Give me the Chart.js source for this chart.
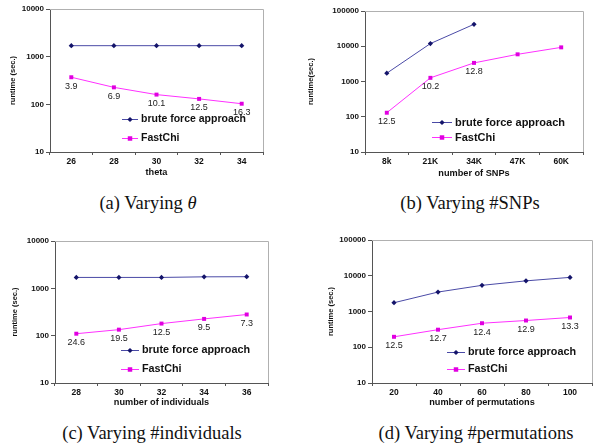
<!DOCTYPE html>
<html>
<head>
<meta charset="utf-8">
<script src="https://cdn.jsdelivr.net/npm/chart.js@4.4.0/dist/chart.umd.min.js"></script>
<style>
  html, body { margin:0; padding:0; background:#fff; }
  #wrap { position:relative; width:600px; height:448px; overflow:hidden; }
  canvas { position:absolute; }
  .cap { position:absolute; font-family:"Liberation Serif", serif; font-size:18.5px; color:#111; white-space:nowrap; transform:translate(-50%,-50%); }
</style>
</head>
<body>
<div id="wrap">
  <canvas id="ca" width="300" height="190" style="left:0;top:0"></canvas>
  <canvas id="cb" width="300" height="190" style="left:300px;top:0"></canvas>
  <canvas id="cc" width="300" height="190" style="left:0;top:224px"></canvas>
  <canvas id="cd" width="300" height="190" style="left:300px;top:224px"></canvas>
  <div class="cap" style="left:148px;top:203px">(a) Varying <i>θ</i></div>
  <div class="cap" style="left:470px;top:203px">(b) Varying #SNPs</div>
  <div class="cap" style="left:152px;top:433px">(c) Varying #individuals</div>
  <div class="cap" style="left:476px;top:433px">(d) Varying #permutations</div>
</div>
<script>
// ---- data ----
const thetaCats = ['26','28','30','32','34'];
const thetaBrute = [1700, 1700, 1700, 1700, 1700];
const thetaFast = [370, 227, 160, 130, 103];
const thetaSpeedup = ['3.9','6.9','10.1','12.5','16.3'];

const snpCats = ['8k','21K','34K','47K','60K'];
const snpBrute = [1720, 11900, 42000, null, null];
const snpFast = [130, 1270, 3370, 5900, 9300];
const snpSpeedup = ['12.5','10.2','12.8', null, null];

const indCats = ['28','30','32','34','36'];
const indBrute = [1700, 1700, 1700, 1750, 1760];
const indFast = [110, 134, 180, 226, 280];
const indSpeedup = ['24.6','19.5','12.5','9.5','7.3'];

const permCats = ['20','40','60','80','100'];
const permBrute = [1760, 3500, 5400, 7200, 9000];
const permFast = [196, 310, 470, 560, 680];
const permSpeedup = ['12.5','12.7','12.4','12.9','13.3'];

const yTicks4 = [10, 100, 1000, 10000];
const yTicks5 = [10, 100, 1000, 10000, 100000];
const seriesNames = ['brute force approach', 'FastChi'];

// ---- styling ----
const FONT = '"Liberation Sans", Arial, sans-serif';
const BRUTE_LINE = '#4a4aa6', BRUTE_PT = '#14146a';
const FAST_LINE = '#ff30ff', FAST_PT = '#e000e0';

const framePlugin = {
  id: 'frame',
  beforeDatasetsDraw(chart) {
    const a = chart.chartArea, ctx = chart.ctx;
    ctx.save();
    ctx.strokeStyle = '#b0b0b0';
    ctx.lineWidth = 1;
    ctx.beginPath();
    ctx.moveTo(a.left, a.top + 0.5);
    ctx.lineTo(a.right + 0.5, a.top + 0.5);
    ctx.lineTo(a.right + 0.5, a.bottom);
    ctx.stroke();
    ctx.restore();
  }
};

const labelPlugin = {
  id: 'speedLabels',
  afterDatasetsDraw(chart, args, opts) {
    const meta = chart.getDatasetMeta(1), ctx = chart.ctx;
    ctx.save();
    ctx.font = '9px ' + FONT;
    ctx.fillStyle = '#222';
    ctx.textAlign = 'center';
    ctx.textBaseline = 'middle';
    (opts.labels || []).forEach((t, i) => {
      if (t == null) return;
      const p = meta.data[i];
      ctx.fillText(t, p.x + (opts.dx || 0), p.y + (opts.dy || 9));
    });
    ctx.restore();
  }
};

function drawMarker(ctx, style, x, y, r, color) {
  ctx.fillStyle = color;
  ctx.beginPath();
  if (style === 'rectRot') {
    ctx.moveTo(x, y - r); ctx.lineTo(x + r, y); ctx.lineTo(x, y + r); ctx.lineTo(x - r, y); ctx.closePath();
  } else {
    ctx.rect(x - r * 0.8, y - r * 0.8, r * 1.6, r * 1.6);
  }
  ctx.fill();
}

const legendPlugin = {
  id: 'innerLegend',
  afterDraw(chart, args, opts) {
    const ctx = chart.ctx;
    const ds = chart.data.datasets;
    ctx.save();
    ctx.font = 'bold ' + (opts.size || 10.5) + 'px ' + FONT;
    ctx.textBaseline = 'middle';
    ctx.textAlign = 'left';
    ds.forEach((d, i) => {
      const y = opts.ys[i];
      ctx.strokeStyle = d.borderColor;
      ctx.lineWidth = 1;
      ctx.beginPath();
      ctx.moveTo(opts.x, y + 0.5);
      ctx.lineTo(opts.x + opts.len, y + 0.5);
      ctx.stroke();
      drawMarker(ctx, d.pointStyle, opts.x + opts.len / 2, y + 0.5, d.pointRadius, d.pointBackgroundColor);
      ctx.fillStyle = '#111';
      ctx.fillText(d.label, opts.x + opts.len + 3, y + 0.5);
    });
    ctx.restore();
  }
};

function makeChart(id, c) {
  const yTicks = c.ymax === 100000 ? yTicks5 : yTicks4;
  return new Chart(document.getElementById(id), {
    type: 'line',
    data: {
      labels: c.cats,
      datasets: [
        { label: seriesNames[0], data: c.brute, borderColor: BRUTE_LINE, pointBackgroundColor: BRUTE_PT,
          pointBorderColor: BRUTE_PT, pointStyle: 'rectRot', pointRadius: 2.6, pointBorderWidth: 0,
          borderWidth: 1, tension: 0, spanGaps: false },
        { label: seriesNames[1], data: c.fast, borderColor: FAST_LINE, pointBackgroundColor: FAST_PT,
          pointBorderColor: FAST_PT, pointStyle: 'rect', pointRadius: 2.8, pointBorderWidth: 0,
          borderWidth: 1, tension: 0 }
      ]
    },
    options: {
      responsive: false, animation: false, devicePixelRatio: 1,
      layout: { padding: { left: 0, top: c.top, right: 300 - c.right, bottom: 0 } },
      plugins: {
        legend: { display: false }, tooltip: { enabled: false },
        speedLabels: { labels: c.speed, dy: 9, dx: 0 },
        innerLegend: c.legend
      },
      scales: {
        x: {
          type: 'category', offset: true,
          grid: { offset: true, drawOnChartArea: false, drawTicks: true, tickLength: 3, color: '#555' },
          border: { color: '#555', width: 1 },
          ticks: { color: '#111', padding: c.xTickPad, font: { family: FONT, size: 8.5, weight: 'bold' }, maxRotation: 0 },
          title: { display: true, text: c.xTitle, color: '#111', font: { family: FONT, size: 9.2, weight: 'bold' },
                   padding: { top: 0, bottom: 190 - 5.5 - c.xTitleY } },
          afterFit: s => { s.height = 190 - c.bottom; }
        },
        y: {
          type: 'logarithmic', min: 10, max: c.ymax,
          afterBuildTicks: s => { s.ticks = yTicks.map(v => ({ value: v })); },
          grid: { drawOnChartArea: false, drawTicks: true, tickLength: 4, color: '#555' },
          border: { color: '#555', width: 1 },
          ticks: { color: '#111', padding: 2, font: { family: FONT, size: 8, weight: 'bold' },
                   callback: v => String(v) },
          title: { display: true, text: c.yTitle, color: '#111', font: { family: FONT, size: 7.5, weight: 'bold' },
                   padding: { top: c.yTitleX - 4.5, bottom: 0 } },
          afterFit: s => { s.width = c.left; }
        }
      }
    },
    plugins: [framePlugin, labelPlugin, legendPlugin]
  });
}

makeChart('ca', { cats: thetaCats, brute: thetaBrute, fast: thetaFast, speed: thetaSpeedup, ymax: 10000,
  left: 50, top: 9, right: 263, bottom: 152, xTickPad: 2, xTitle: 'theta', xTitleY: 172,
  yTitle: 'runtime (sec.)', yTitleX: 12.5,
  legend: { x: 122, len: 16, ys: [119, 138], size: 10.5 } });

makeChart('cb', { cats: snpCats, brute: snpBrute, fast: snpFast, speed: snpSpeedup, ymax: 100000,
  left: 65, top: 11, right: 283, bottom: 152, xTickPad: 2, xTitle: 'number of SNPs', xTitleY: 173,
  yTitle: 'runtime(sec.)', yTitleX: 11,
  legend: { x: 132, len: 20, ys: [122, 137], size: 11 } });

makeChart('cc', { cats: indCats, brute: indBrute, fast: indFast, speed: indSpeedup, ymax: 10000,
  left: 55, top: 17, right: 268, bottom: 159, xTickPad: 2, xTitle: 'number of individuals', xTitleY: 178,
  yTitle: 'runtime (sec.)', yTitleX: 15,
  legend: { x: 121, len: 18, ys: [126, 145], size: 10.8 } });

makeChart('cd', { cats: permCats, brute: permBrute, fast: permFast, speed: permSpeedup, ymax: 100000,
  left: 72, top: 16, right: 292, bottom: 159, xTickPad: 2, xTitle: 'number of permutations', xTitleY: 178,
  yTitle: 'runtime (sec.)', yTitleX: 31,
  legend: { x: 147, len: 18, ys: [128, 145], size: 10.8 } });
</script>
</body>
</html>
